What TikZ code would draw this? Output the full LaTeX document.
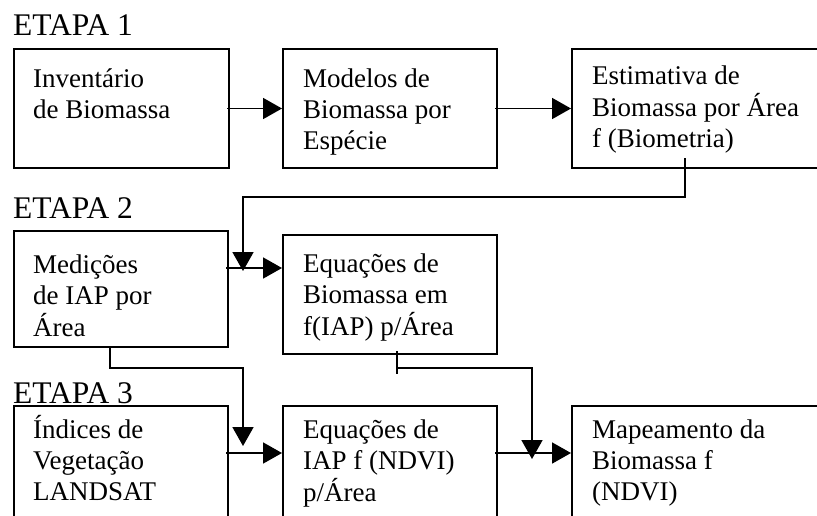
\documentclass[tikz,border=0pt]{standalone}
\usepackage{fontspec}
\setmainfont{Liberation Serif}
\usetikzlibrary{arrows.meta}
\newcommand{\bxt}[1]{\begin{tabular}[t]{@{}l@{}}#1\end{tabular}}
\tikzset{
  stagebox/.style={draw, line width=2pt, rectangle, inner sep=0pt, anchor=north west},
  boxlabel/.style={inner sep=0pt, anchor=base west, font=\fontsize{27}{31}\selectfont},
  stagetitle/.style={inner sep=0pt, anchor=base west, font=\fontsize{31.5}{34}\selectfont},
  conn/.style={line width=1.8pt},
  arr/.style={conn, -{Triangle[length=19pt,width=21pt]}}
}
\begin{document}
\begin{tikzpicture}[x=1pt,y=-1pt]
\useasboundingbox (0,0) rectangle (817,515);
\clip (0,0) rectangle (817,515);
\fill[white] (0,0) rectangle (817,515);
% stage titles
\node[stagetitle] (e1) at (13,35) {ETAPA 1};
\node[stagetitle] (e2) at (13,218) {ETAPA 2};
\node[stagetitle] (e3) at (13,403) {ETAPA 3};
% boxes
\node[stagebox, minimum width=215pt, minimum height=119pt] (b1) at (13,48) {};
\node[stagebox, minimum width=214pt, minimum height=119pt] (b2) at (282,48) {};
\node[stagebox, minimum width=260pt, minimum height=119pt] (b3) at (571,48) {};
\node[stagebox, minimum width=214pt, minimum height=116pt] (b4) at (13,230) {};
\node[stagebox, minimum width=214pt, minimum height=119pt] (b5) at (282,234) {};
\node[stagebox, minimum width=214pt, minimum height=130pt] (b6) at (13,405) {};
\node[stagebox, minimum width=214pt, minimum height=130pt] (b7) at (282,405) {};
\node[stagebox, minimum width=260pt, minimum height=130pt] (b8) at (571,405) {};
% texts
\node[boxlabel] (t1) at (33,87) {\bxt{Inventário\\de Biomassa}};
\node[boxlabel] (t2) at (303,87) {\bxt{Modelos de\\Biomassa por\\Espécie}};
\node[boxlabel] (t3) at (592,84) {\bxt{Estimativa de\\Biomassa por Área\\f (Biometria)}};
\node[boxlabel] (t4) at (33,273) {\bxt{Medições\\de IAP por\\Área}};
\node[boxlabel] (t5) at (303,272) {\bxt{Equações de\\Biomassa em\\f(IAP) p/Área}};
\node[boxlabel] (t6) at (33,438) {\bxt{Índices de\\Vegetação\\LANDSAT}};
\node[boxlabel] (t7) at (303,438) {\bxt{Equações de\\IAP f (NDVI)\\p/Área}};
\node[boxlabel] (t8) at (592,438) {\bxt{Mapeamento da\\Biomassa f\\(NDVI)}};
% helper coordinates
\coordinate (r2) at (0,268);
\coordinate (r3) at (0,453);
\coordinate (j1) at (243,271);
\coordinate (j2) at (243,446);
\coordinate (j3) at (532,459);
\coordinate (s3) at (685,158);
\coordinate (s4) at (110,346);
\coordinate (s5) at (397,351);
% connectors stage 1
\draw[arr] ([xshift=-3pt]b1.east) -- (b2.west);
\draw[arr] ([xshift=-3pt]b2.east) -- (b3.west);
\draw[arr] (s3) -- (685,197) -| (j1);
% stage 2
\draw[arr] ([xshift=-3pt]b4.east |- r2) -- (b5.west |- r2);
\draw[arr] (s4) -- (110,368) -| (j2);
\draw[conn] (s5) -- (397,374);
\draw[arr] (397,368) -| (j3);
% stage 3
\draw[arr] ([xshift=-3pt]b6.east |- r3) -- (b7.west |- r3);
\draw[arr] ([xshift=-3pt]b7.east |- r3) -- (b8.west |- r3);
\end{tikzpicture}
\end{document}
